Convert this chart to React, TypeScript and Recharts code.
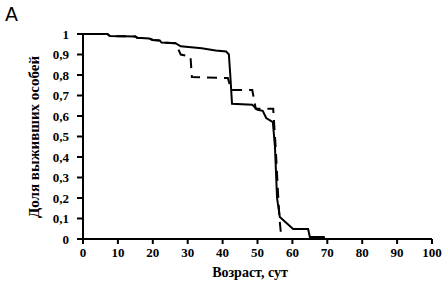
import React from 'react';
import { LineChart, Line, XAxis, YAxis } from 'recharts';

// Age (days) and surviving fraction, solid curve
const solidAges = [0, 7, 7.7, 15, 15.5, 19, 20, 22, 22.5, 26.5, 28, 34, 38, 41, 41.8, 42.2, 42.7, 48.5, 50, 51.5, 52.5, 54.4, 55.0, 55.6, 56.4, 60.2, 64.5, 65, 69, 69.2];
const solidSurv = [1, 1, 0.99, 0.988, 0.982, 0.978, 0.971, 0.968, 0.958, 0.955, 0.94, 0.93, 0.92, 0.915, 0.9, 0.8, 0.66, 0.655, 0.63, 0.625, 0.59, 0.57, 0.45, 0.2, 0.107, 0.049, 0.049, 0.01, 0.01, 0];

// Dashed curve
const dashedAges = [0, 7, 7.7, 15, 15.5, 19, 20, 22, 22.5, 26.5, 28, 30.8, 31.2, 41.5, 42.5, 48.5, 49.5, 54.5, 55.2, 55.8, 56.3, 56.8, 57];
const dashedSurv = [1, 1, 0.99, 0.988, 0.982, 0.978, 0.971, 0.968, 0.958, 0.955, 0.9, 0.89, 0.79, 0.785, 0.727, 0.727, 0.635, 0.635, 0.45, 0.25, 0.1, 0.01, 0];

const xTicks = [0, 10, 20, 30, 40, 50, 60, 70, 80, 90, 100];
const yTicks = [0, 0.1, 0.2, 0.3, 0.4, 0.5, 0.6, 0.7, 0.8, 0.9, 1];

const solidData = solidAges.map((a, i) => ({ age: a, v: solidSurv[i] }));
const dashedData = dashedAges.map((a, i) => ({ age: a, v: dashedSurv[i] }));

const FONT = '"Liberation Serif", "DejaVu Serif", serif';

export default function App() {
  return (
    <div style={{ position: 'absolute', left: 0, top: 0, width: 442, height: 283, background: '#fff' }}>
      <LineChart width={442} height={283} margin={{ top: 34, right: 10, bottom: 14, left: 43 }}>
        <XAxis
          type="number"
          dataKey="age"
          domain={[0, 100]}
          ticks={xTicks}
          interval={0}
          allowDataOverflow
          height={30}
          stroke="#000"
          strokeWidth={2}
          tickSize={5}
          tickMargin={4}
          tick={{ fill: '#000', fontSize: 13, fontFamily: FONT, fontWeight: 'bold' }}
        />
        <YAxis
          type="number"
          dataKey="v"
          domain={[0, 1]}
          ticks={yTicks}
          interval={0}
          width={40}
          stroke="#000"
          strokeWidth={2}
          tickSize={6}
          tickMargin={8}
          tickFormatter={(v: number) => String(Math.round(v * 10) / 10).replace('.', ',')}
          tick={{ fill: '#000', fontSize: 13, fontFamily: FONT, fontWeight: 'bold' }}
        />
        <Line data={dashedData} dataKey="v" type="linear" stroke="#000" strokeWidth={2} strokeDasharray="10 7" dot={false} isAnimationActive={false} />
        <Line data={solidData} dataKey="v" type="linear" stroke="#000" strokeWidth={2} dot={false} isAnimationActive={false} />
        <text x={250} y={277} textAnchor="middle" fontFamily={FONT} fontSize={14} fontWeight="bold" fill="#000">Возраст, сут</text>
        <text x={0} y={0} transform="translate(39,137) rotate(-90)" textAnchor="middle" fontFamily={FONT} fontSize={15} fontWeight="bold" fill="#000">Доля выживших особей</text>
        <text x={5} y={21} fontFamily='"DejaVu Sans", sans-serif' fontSize={19} fontWeight="normal" fill="#000">А</text>
      </LineChart>
    </div>
  );
}
